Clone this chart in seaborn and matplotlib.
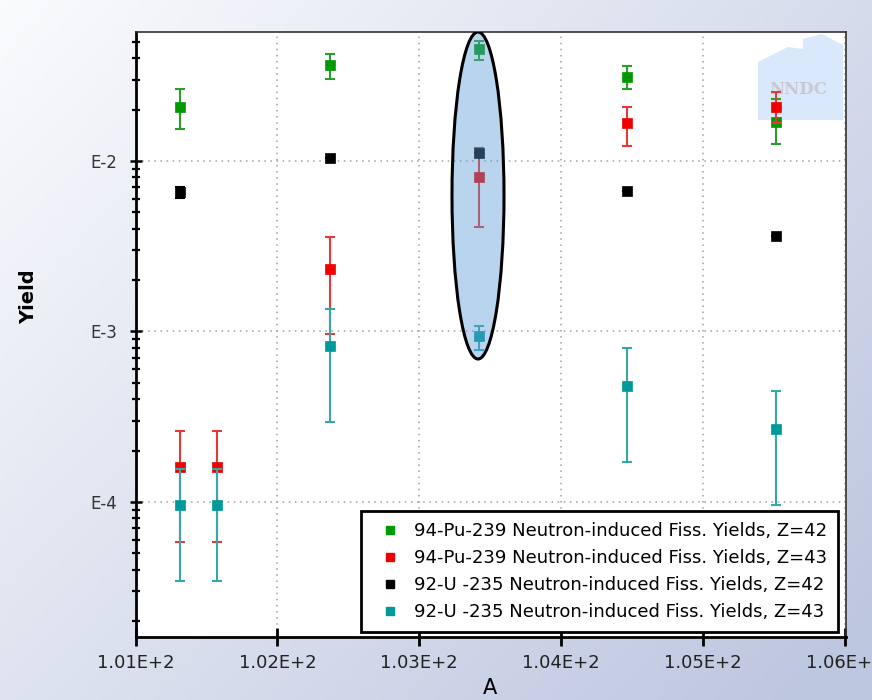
import numpy as np
import pandas as pd
import matplotlib
matplotlib.use("Agg")
import matplotlib.pyplot as plt
import seaborn as sns
from matplotlib.patches import Ellipse, Polygon
from matplotlib.ticker import LogLocator, NullFormatter
from matplotlib.lines import Line2D

# ---------------- data ----------------
series_labels = [
    "94-Pu-239 Neutron-induced Fiss. Yields, Z=42",
    "94-Pu-239 Neutron-induced Fiss. Yields, Z=43",
    "92-U -235 Neutron-induced Fiss. Yields, Z=42",
    "92-U -235 Neutron-induced Fiss. Yields, Z=43",
]
series_colors = ["#009a00", "#f00000", "#000000", "#009999"]
errbar_colors = ["#2a9e2a", "#e63838", "#000000", "#35a8a8"]

pu_z42_a = [101.315, 102.37, 103.42, 104.465, 105.518]
pu_z42_y = [0.0208, 0.0364, 0.0452, 0.0310, 0.0170]
pu_z42_lo = [0.0153, 0.0303, 0.0390, 0.0264, 0.0125]
pu_z42_hi = [0.0264, 0.0423, 0.0508, 0.0362, 0.0231]

pu_z43_a = [101.315, 101.573, 102.37, 103.42, 104.465, 105.518]
pu_z43_y = [1.59e-4, 1.59e-4, 2.32e-3, 8.09e-3, 0.01664, 0.0206]
pu_z43_lo = [5.8e-5, 5.8e-5, 9.66e-4, 4.12e-3, 0.0123, 0.0167]
pu_z43_hi = [2.61e-4, 2.61e-4, 3.58e-3, 0.01197, 0.0208, 0.0255]

u_z42_a = [101.315, 102.37, 103.42, 104.465, 105.518]
u_z42_y = [6.55e-3, 0.01037, 0.01119, 6.67e-3, 3.61e-3]
u_z42_lo = [6.1e-3, 0.01037, 0.01119, 6.67e-3, 3.61e-3]
u_z42_hi = [7.0e-3, 0.01037, 0.01119, 6.67e-3, 3.61e-3]

u_z43_a = [101.315, 101.573, 102.37, 103.42, 104.465, 105.518]
u_z43_y = [9.57e-5, 9.57e-5, 8.22e-4, 9.42e-4, 4.81e-4, 2.68e-4]
u_z43_lo = [3.41e-5, 3.41e-5, 2.93e-4, 7.78e-4, 1.72e-4, 9.6e-5]
u_z43_hi = [1.56e-4, 1.56e-4, 1.35e-3, 1.07e-3, 7.96e-4, 4.44e-4]

x_ticks = [101, 102, 103, 104, 105, 106]
x_tick_labels = ["1.01E+2", "1.02E+2", "1.03E+2", "1.04E+2", "1.05E+2", "1.06E+2"]
y_ticks = [1e-4, 1e-3, 1e-2]
y_tick_labels = ["E-4", "E-3", "E-2"]

series = [
    (pu_z42_a, pu_z42_y, pu_z42_lo, pu_z42_hi),
    (pu_z43_a, pu_z43_y, pu_z43_lo, pu_z43_hi),
    (u_z42_a, u_z42_y, u_z42_lo, u_z42_hi),
    (u_z43_a, u_z43_y, u_z43_lo, u_z43_hi),
]

# ---------------- figure ----------------
W, H = 872, 700
fig = plt.figure(figsize=(W / 100, H / 100), dpi=100)

# gradient background
bg = fig.add_axes([0, 0, 1, 1], zorder=-10)
yy, xx = np.mgrid[0:1:200j, 0:1:200j]
t = np.clip(0.6 * xx + 0.45 * yy, 0, 1)
c0 = np.array([250, 251, 253]) / 255
c1 = np.array([190, 199, 224]) / 255
img = c0[None, None, :] * (1 - t[..., None]) + c1[None, None, :] * t[..., None]
bg.imshow(img, aspect="auto", extent=[0, 1, 0, 1], origin="upper")
bg.axis("off")

L, R, T, B = 135.6, 846.0, 32.0, 637.0
ax = fig.add_axes([L / W, 1 - B / H, (R - L) / W, (B - T) / H])
ax.set_facecolor("white")
ax.set_yscale("log")

for i, (a, y, lo, hi) in enumerate(series):
    a = np.array(a); y = np.array(y); lo = np.array(lo); hi = np.array(hi)
    yerr = np.vstack([y - lo, hi - y])
    ax.errorbar(a, y, yerr=yerr, fmt="none", ecolor=errbar_colors[i],
                elinewidth=1.5, capsize=3.5, capthick=1.5, zorder=3 + i * 2)
    df = pd.DataFrame({"A": a, "Yield": y})
    sns.scatterplot(data=df, x="A", y="Yield", ax=ax, marker="s", s=55,
                    color=series_colors[i], edgecolor=series_colors[i],
                    linewidth=0.5, zorder=4 + i * 2, legend=False)

ax.set_xlim(101, 106.01)
ax.set_ylim(1.61e-5, 0.0571)

ax.set_xticks(x_ticks, x_tick_labels)
ax.set_yticks(y_ticks, y_tick_labels)
ax.yaxis.set_minor_locator(LogLocator(base=10, subs=np.arange(2, 10)))
ax.yaxis.set_minor_formatter(NullFormatter())
ax.xaxis.set_minor_locator(plt.NullLocator())

ax.grid(True, which="major", linestyle=(0, (1, 3)), color="#a0a0a0", linewidth=1.1)
ax.set_axisbelow(True)

ax.tick_params(axis="x", which="major", direction="inout", length=13, width=2,
               labelsize=13, pad=6, colors="black", labelcolor="#222222")
ax.tick_params(axis="y", which="major", direction="inout", length=8, width=1.8,
               labelsize=12, pad=9, labelcolor="#333333")
ax.tick_params(axis="y", which="minor", direction="inout", length=6, width=1.6)

for s in ["left", "bottom"]:
    ax.spines[s].set_linewidth(2)
    ax.spines[s].set_color("black")
for s in ["top", "right"]:
    ax.spines[s].set_linewidth(1.2)
    ax.spines[s].set_color("#333333")

def fx(px):
    return (px - L) / (R - L)

def fy(py):
    return (B - py) / (B - T)

ax.set_xlabel("A", fontsize=15)
ax.xaxis.set_label_coords(fx(490), fy(678))
ax.set_ylabel("Yield", fontsize=14, fontweight="bold")
ax.yaxis.set_label_coords(fx(38), fy(297))

# highlighted ellipse
ell = Ellipse((fx(478), fy(195.5)), width=52 / (R - L), height=327 / (B - T),
              transform=ax.transAxes, facecolor=(90 / 255, 156 / 255, 215 / 255, 0.42),
              edgecolor="black", linewidth=2.2, zorder=20)
ax.add_patch(ell)

# NNDC watermark
house_px = [(758, 120), (758, 62), (788, 47), (803, 49), (803, 39), (822, 34),
            (843, 45), (843, 120)]
house = Polygon([(fx(x), fy(y)) for x, y in house_px], closed=True,
                transform=ax.transAxes, facecolor=(205 / 255, 226 / 255, 250 / 255, 0.75),
                edgecolor="none", zorder=1)
ax.add_patch(house)
ax.text(fx(798), fy(90), "NNDC", transform=ax.transAxes, ha="center", va="center",
        fontsize=12, fontweight="bold", family="DejaVu Serif", color="#c4c4cc",
        alpha=0.85, zorder=1.5)

# legend
handles = [Line2D([], [], linestyle="none", marker="s", markersize=6,
                  markerfacecolor=c, markeredgecolor=c) for c in series_colors]
leg = ax.legend(handles, series_labels, loc="lower right",
                bbox_to_anchor=(fx(838), fy(632)), fontsize=13, frameon=True,
                fancybox=False, framealpha=1, edgecolor="black",
                labelspacing=0.5, handlelength=2.0, handletextpad=0.35,
                borderpad=0.6, borderaxespad=0)
leg.get_frame().set_linewidth(2)
leg.set_zorder(30)

fig.savefig("out.png", dpi=100)
